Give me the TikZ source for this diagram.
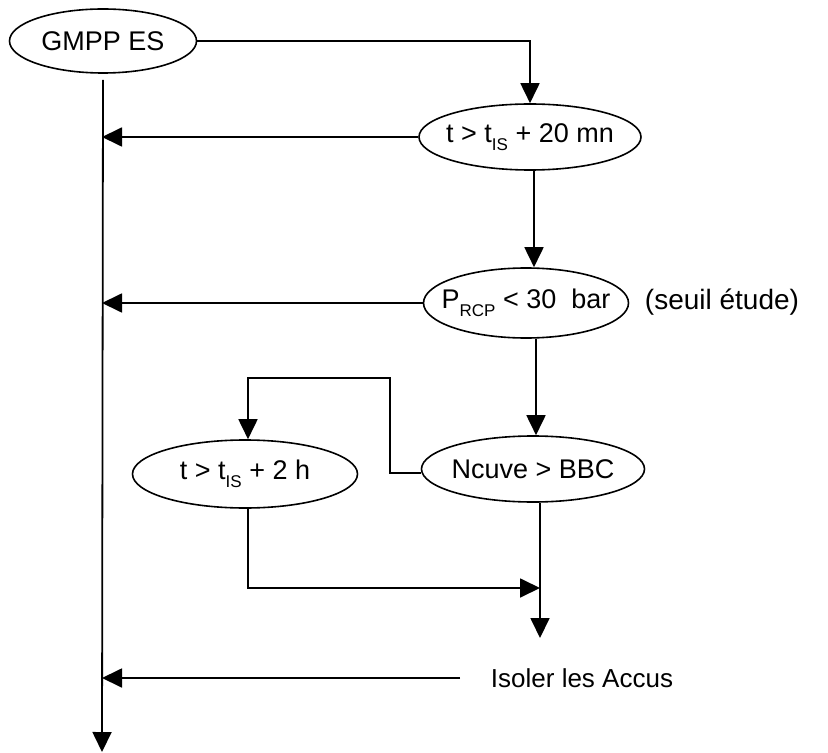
\documentclass[tikz,border=0pt]{standalone}
\usepackage{fontspec}
\setmainfont{Liberation Sans}
\usetikzlibrary{shapes,shapes.geometric,arrows,arrows.meta,calc,positioning}
\newcommand{\lowidx}[1]{\raisebox{-0.28em}{\fontsize{8.5}{9}\selectfont #1}}
\tikzset{cond/.style={draw,ellipse,inner xsep=-6pt,inner ysep=0pt,line width=0.8pt,minimum width=111pt,minimum height=33pt}}
\tikzstyle{lbl}=[inner sep=0pt]

\begin{document}
\begin{tikzpicture}[>={Triangle[length=10pt,width=9.5pt]}, x=0.5pt, y=-0.5pt, line width=0.9pt, font=\fontsize{13.5}{16}\selectfont]
\useasboundingbox (0,0) rectangle (828,753);
\node[cond, minimum width=93.5pt, minimum height=32pt] (gmpp) at (103,41) {GMPP ES};
\node[cond] (t20) at (530,137) {t > t\lowidx{IS} + 20 mn};
\node[cond, minimum width=102.5pt, minimum height=35pt] (prcp) at (526,303) {P\lowidx{RCP} < 30~~bar};
\node[lbl, font=\fontsize{14}{17}\selectfont] (seuil) at (722,302) {(seuil étude)};
\node[cond, minimum width=111.5pt] (ncuve) at (533,469) {Ncuve > BBC};
\node[cond, minimum width=112.5pt, minimum height=34pt] (t2h) at (245,474) {t > t\lowidx{IS} + 2 h};
\node[lbl, font=\fontsize{13}{15}\selectfont] (accus) at (582,678) {Isoler les Accus};
\coordinate (bot) at (102,752);
\coordinate (knee) at (390,378);
\coordinate (join) at (540,588);
\coordinate (fin) at (540,638);
% tronc principal
\draw[->] ([yshift=-3pt]gmpp.south) -- (bot);
\draw[->] (gmpp.east) -| (t20.north);
\draw[->] (t20.west) -- (t20.west -| bot);
\draw[->] ([xshift=2pt]t20.south) -- ([xshift=2pt]t20.south |- prcp.north);
\draw[->] (prcp.west) -- (prcp.west -| bot);
\draw[->] ([xshift=5pt]prcp.south) -- ([xshift=5pt]prcp.south |- ncuve.north);
% boucle 2 h
\draw[->] ([yshift=-2pt]ncuve.west) -| (knee) -| ([xshift=1.5pt]t2h.north);
\draw[->] ([xshift=1.5pt]t2h.south) |- (join);
\draw[->] (ncuve.south -| fin) -- (fin);
\draw[->] ([xshift=-15pt]accus.west) -- (accus.west -| bot);
\end{tikzpicture}
\end{document}
